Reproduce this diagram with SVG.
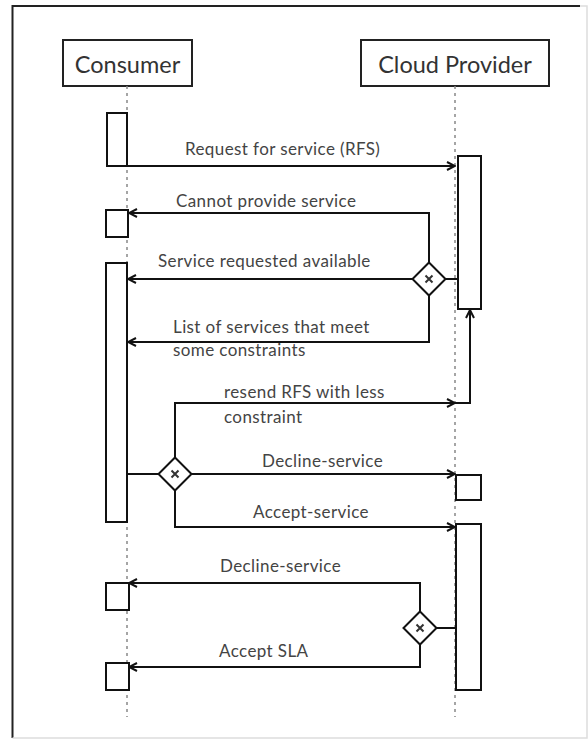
<svg xmlns="http://www.w3.org/2000/svg" width="588" height="740" viewBox="0 0 588 740">
<style>
.frame{fill:none;stroke:#222;stroke-width:2}
.frame2{fill:none;stroke:#ddd;stroke-width:1.5}
.actor{fill:#fff;stroke:#222;stroke-width:2}
.act{fill:#fff;stroke:#111;stroke-width:2}
.life{fill:none;stroke:#888;stroke-width:1.5;stroke-dasharray:3 4}
.msg{fill:none;stroke:#111;stroke-width:2}
.gw{fill:#fff;stroke:#111;stroke-width:2}
.gwx{fill:none;stroke:#333;stroke-width:2}
.at{font-family:Lato,"Liberation Sans",sans-serif;font-size:23.5px;fill:#333;text-anchor:middle}
.lbl{font-family:Lato,"Liberation Sans",sans-serif;font-size:17px;letter-spacing:0.4px;fill:#444}
</style>
<defs>
<marker id="arr" viewBox="0 0 10 10" refX="9" refY="5" markerWidth="10" markerHeight="10" markerUnits="userSpaceOnUse" orient="auto">
<path d="M1,1 L9,5 L1,9" fill="none" stroke="#111" stroke-width="2"/>
</marker>
</defs>
<path class="frame" d="M12.5,738 V6 H580"/>
<path class="frame2" d="M580,6 H587 V738 H12.5"/>
<g id="consumer">
<rect class="actor" x="63" y="40" width="129" height="46"/>
<text class="at" x="127.5" y="72.5">Consumer</text>
<line class="life" x1="127" y1="86" x2="127" y2="717"/>
</g>
<g id="provider">
<rect class="actor" x="361" y="40" width="188" height="46"/>
<text class="at" x="455" y="72.5">Cloud Provider</text>
<line class="life" x1="455" y1="86" x2="455" y2="717"/>
</g>
<g id="consumer-act1"><rect class="act" x="107" y="113" width="20" height="53"/></g>
<g id="consumer-box2"><rect class="act" x="106" y="210" width="22" height="27"/></g>
<g id="consumer-act3"><rect class="act" x="106" y="263" width="21" height="259"/></g>
<g id="consumer-box4"><rect class="act" x="106" y="583" width="23" height="27"/></g>
<g id="consumer-box5"><rect class="act" x="106" y="663" width="23" height="27"/></g>
<g id="provider-act1"><rect class="act" x="458" y="156" width="23" height="153"/></g>
<g id="provider-box2"><rect class="act" x="456" y="475" width="25" height="25"/></g>
<g id="provider-act3"><rect class="act" x="456" y="524" width="25" height="166"/></g>
<g id="connectors">
<path class="msg" d="M127,166 H455" marker-end="url(#arr)"/>
<path class="msg" d="M458,279 H446"/>
<path class="msg" d="M429,263 V213 H129" marker-end="url(#arr)"/>
<path class="msg" d="M413,279 H128" marker-end="url(#arr)"/>
<path class="msg" d="M429,295 V342 H128" marker-end="url(#arr)"/>
<path class="msg" d="M127,474 H158"/>
<path class="msg" d="M175,458 V403 H455" marker-end="url(#arr)"/>
<path class="msg" d="M455,403 H470 V310" marker-end="url(#arr)"/>
<path class="msg" d="M192,474 H455" marker-end="url(#arr)"/>
<path class="msg" d="M175,491 V527 H455" marker-end="url(#arr)"/>
<path class="msg" d="M456,628 H437"/>
<path class="msg" d="M420,612 V583 H129" marker-end="url(#arr)"/>
<path class="msg" d="M420,644 V667 H129" marker-end="url(#arr)"/>
</g>
<g id="gateway-provider1">
<path class="gw" d="M429,262.5 L445.5,279 L429,295.5 L412.5,279 Z"/>
<path class="gwx" d="M425.5,275.5 L432.5,282.5 M432.5,275.5 L425.5,282.5"/>
</g>
<g id="gateway-consumer">
<path class="gw" d="M175,457.5 L191.5,474 L175,490.5 L158.5,474 Z"/>
<path class="gwx" d="M171.5,470.5 L178.5,477.5 M178.5,470.5 L171.5,477.5"/>
</g>
<g id="gateway-provider2">
<path class="gw" d="M420,611.5 L436.5,628 L420,644.5 L403.5,628 Z"/>
<path class="gwx" d="M416.5,624.5 L423.5,631.5 M423.5,624.5 L416.5,631.5"/>
</g>
<g id="labels">
<text class="lbl" x="185" y="155">Request for service (RFS)</text>
<text class="lbl" x="176" y="207">Cannot provide service</text>
<text class="lbl" x="158" y="267">Service requested available</text>
<text class="lbl" x="173" y="333">List of services that meet</text>
<text class="lbl" x="173" y="356">some constraints</text>
<text class="lbl" x="224" y="398">resend RFS with less</text>
<text class="lbl" x="224" y="423">constraint</text>
<text class="lbl" x="262" y="467">Decline-service</text>
<text class="lbl" x="253" y="518">Accept-service</text>
<text class="lbl" x="220" y="572">Decline-service</text>
<text class="lbl" x="219" y="657">Accept SLA</text>
</g>
</svg>
